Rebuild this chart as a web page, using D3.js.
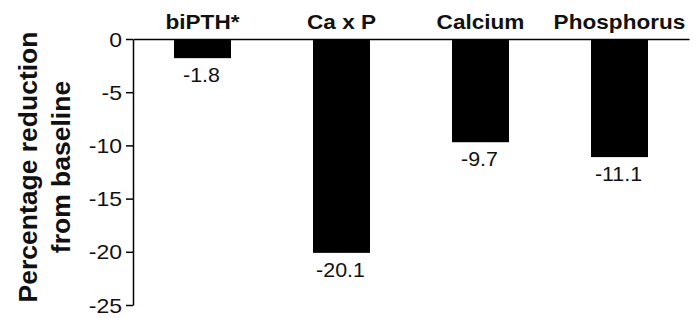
<!DOCTYPE html>
<html>
<head>
<meta charset="utf-8">
<script src="https://cdn.jsdelivr.net/npm/d3@7"></script>
<style>
  html, body { margin: 0; padding: 0; background: #fff; }
  svg { display: block; font-family: "Liberation Sans", Arial, Helvetica, sans-serif; }
</style>
</head>
<body>
<svg id="chart" width="696" height="318"></svg>
<script>
const categories = ["biPTH*", "Ca x P", "Calcium", "Phosphorus"];
const values = [-1.8, -20.1, -9.7, -11.1];
const valueLabels = ["-1.8", "-20.1", "-9.7", "-11.1"];
const yTicks = [0, -5, -10, -15, -20, -25];
const yTitle = ["Percentage reduction", "from baseline"];

const svg = d3.select("#chart");
const mLeft = 133, mRight = 689, mTop = 39, mBottom = 305;

const x = d3.scaleBand().domain(categories).range([mLeft, mRight])
  .paddingInner(0.59).paddingOuter(0.295);
const y = d3.scaleLinear().domain([-25, 0]).range([mBottom, mTop]);

// bars
svg.append("g").selectAll("rect").data(values).join("rect")
  .attr("x", (d, i) => x(categories[i]))
  .attr("width", x.bandwidth())
  .attr("y", y(0))
  .attr("height", d => y(d) - y(0))
  .attr("fill", "#000");

// value labels
svg.append("g").selectAll("text").data(values).join("text")
  .attr("transform", (d, i) => `translate(${x(categories[i]) + x.bandwidth() / 2 - 1},${y(d) + 24}) scale(1.07,1)`)
  .attr("text-anchor", "middle")
  .attr("font-size", 20)
  .attr("fill", "#111")
  .text((d, i) => valueLabels[i]);

// y axis
const yAxis = svg.append("g").attr("transform", `translate(${mLeft},0)`)
  .call(d3.axisLeft(y).tickValues(yTicks).tickSize(7).tickSizeOuter(0).tickPadding(4)
    .tickFormat(d => d3.format("d")(d).replace("−", "-")));
yAxis.attr("font-family", null);
yAxis.selectAll("text")
  .attr("x", 0).attr("dy", "0.35em")
  .attr("transform", "translate(-11,0) scale(1.15,1)")
  .attr("font-size", 20).attr("fill", "#111");
yAxis.selectAll("path, line").attr("stroke", "#000").attr("stroke-width", 1.5);

// zero line with category labels
const xAxis = svg.append("g").attr("transform", `translate(0,${y(0)})`)
  .call(d3.axisTop(x).tickSize(0).tickSizeOuter(0).tickPadding(10));
xAxis.attr("font-family", null);
xAxis.select(".domain").attr("stroke", "#000").attr("stroke-width", 1.5);
xAxis.selectAll("text")
  .attr("y", 0)
  .attr("transform", "translate(0,-10) scale(1.13,1)")
  .attr("font-size", 20).attr("font-weight", "bold").attr("fill", "#111");

// y title
svg.append("g").selectAll("text").data(yTitle).join("text")
  .attr("transform", (d, i) => `translate(${37 + i * 33},167) rotate(-90)`)
  .attr("text-anchor", "middle")
  .attr("font-size", 26.5)
  .attr("font-weight", "bold")
  .attr("fill", "#111")
  .text(d => d);
</script>
</body>
</html>
